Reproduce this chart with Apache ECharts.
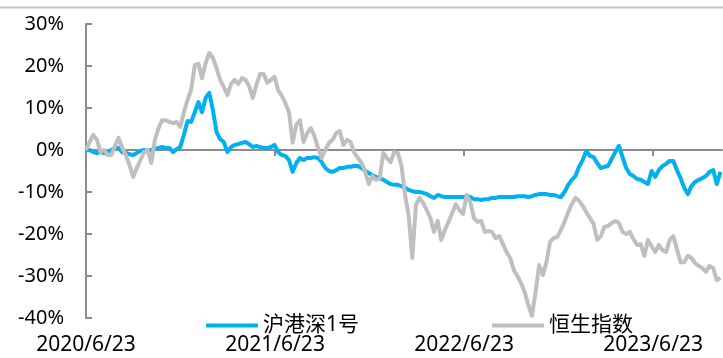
<!DOCTYPE html>
<html>
<head>
<meta charset="utf-8">
<script src="https://cdn.jsdelivr.net/npm/echarts@6/dist/echarts.min.js"></script>
<style>
  html, body { margin: 0; padding: 0; background: #fff; }
  #chart { width: 723px; height: 358px; }
</style>
</head>
<body>
<div id="chart"></div>
<script>
// Weekly cumulative returns (%) starting 2020/6/23
var startDate = [2020, 6, 23];
var stepDays = 7;
var lastDay = 1228;
var tickDays = [0, 365, 730, 1095];
var yTicks = { min: -40, max: 30, step: 10 };
var seriesNames = ['沪港深1号', '恒生指数'];

var fundReturn = [
  0, 0, -0.5, -0.7, -0.5, -0.7, -0.5, 0, 0.5, 0.5,
  -0.5, -0.7, -1.0, -1.2, -0.7, -0.2, 0, -0.2, 0, 0.2,
  0.5, 0.7, 0.5, 0.5, -0.5, 0.2, 0.7, 3.6, 6.9, 6.7,
  9.0, 11.4, 9.0, 12.4, 13.6, 9.5, 4.3, 2.6, 1.9, -0.5,
  0.7, 1.2, 1.4, 1.7, 1.9, 1.4, 0.7, 1.0, 0.7, 0.5,
  0.5, 0.7, 1.2, -0.5, -1.2, -1.4, -2.4, -5.2, -3.1, -1.9,
  -2.4, -1.9, -1.9, -1.7, -1.9, -2.9, -4.3, -5.0, -5.2, -4.8,
  -4.3, -4.3, -4.0, -4.0, -3.8, -3.8, -4.3, -5.0, -5.5, -6.0,
  -6.4, -6.7, -7.1, -7.6, -8.1, -8.3, -8.3, -8.6, -9.0, -9.5,
  -9.8, -10.0, -10.0, -10.2, -10.5, -11.0, -11.4, -10.7, -11.0, -11.2,
  -11.2, -11.2, -11.2, -11.2, -11.2, -11.0, -11.2, -11.7, -11.7, -11.9,
  -11.7, -11.7, -11.4, -11.4, -11.2, -11.2, -11.2, -11.2, -11.2, -11.0,
  -11.0, -11.0, -11.2, -11.0, -10.7, -10.5, -10.5, -10.5, -10.7, -10.7,
  -11.0, -11.2, -10.0, -8.3, -7.1, -6.2, -4.0, -2.4, -0.2, -1.4,
  -1.7, -3.1, -4.3, -4.0, -3.8, -2.1, -0.5, 1.0, -1.7, -4.3,
  -5.7, -6.2, -6.9, -7.1, -7.6, -8.1, -5.0, -6.4, -4.8, -3.8,
  -3.3, -2.6, -2.6, -4.8, -6.7, -9.0, -10.5, -8.6, -7.6, -7.1,
  -6.7, -6.2, -5.2, -4.8, -8.1, -5.2
];

var hsiReturn = [
  0, 1.9, 3.6, 2.4, -0.5, 0, -1.2, -1.2, 1.0, 2.9,
  0.5, -1.2, -3.6, -6.4, -4.3, -2.4, -0.5, 0, -3.1, 2.4,
  5.2, 7.1, 7.1, 6.7, 6.4, 6.7, 5.5, 9.0, 11.9, 14.3,
  20.2, 20.5, 17.1, 20.7, 23.1, 21.9, 19.5, 16.7, 15.0, 13.1,
  15.7, 16.7, 15.7, 17.1, 16.7, 15.2, 12.4, 15.5, 18.1, 18.1,
  16.0, 16.7, 17.4, 14.3, 12.9, 11.2, 9.0, 1.7, 6.0, 7.1,
  1.9, 4.0, 5.2, 3.3, 0.5, -1.9, 0, 1.7, 2.4, 4.0,
  4.5, 1.2, 2.4, 1.9, -0.7, -1.9, -3.1, -5.2, -8.1, -6.2,
  -7.1, -6.7, -0.7, -1.9, -2.9, -0.5, -0.7, -3.6, -10.7, -15.5,
  -25.7, -13.1, -11.4, -12.6, -14.3, -16.2, -19.5, -16.9, -21.4, -19.0,
  -17.1, -15.0, -12.9, -14.3, -15.2, -10.7, -12.4, -16.2, -17.1, -16.9,
  -19.5, -19.3, -19.5, -21.0, -20.5, -22.4, -24.3, -25.7, -28.6, -30.0,
  -31.7, -33.8, -36.9, -39.5, -33.8, -27.4, -29.8, -26.7, -21.9, -21.0,
  -20.7, -19.0, -17.1, -14.8, -12.9, -11.4, -12.1, -13.3, -14.8, -16.2,
  -17.6, -21.4, -20.5, -18.3, -18.1, -17.4, -16.9, -17.4, -19.5, -20.0,
  -19.5, -21.2, -22.6, -22.4, -25.2, -21.4, -22.9, -24.3, -22.6, -23.8,
  -24.3, -21.4, -20.5, -23.6, -26.7, -26.7, -25.2, -25.7, -26.9, -27.6,
  -28.1, -29.0, -27.6, -28.1, -31.0, -30.5
];

function toPairs(values) {
  return values.map(function (v, i) { return [i * stepDays, v]; });
}

function dayLabel(d) {
  var t = new Date(Date.UTC(startDate[0], startDate[1] - 1, startDate[2]) + d * 86400000);
  return t.getUTCFullYear() + '/' + (t.getUTCMonth() + 1) + '/' + t.getUTCDate();
}

var FONT = "'Noto Sans', 'Noto Sans CJK SC', sans-serif";
var AXIS_GRAY = '#8c8c8c';

var chart = echarts.init(document.getElementById('chart'));
chart.setOption({
  animation: false,
  backgroundColor: '#ffffff',
  textStyle: { fontFamily: FONT },
  graphic: [{
    type: 'line',
    shape: { x1: 0, y1: 7.5, x2: 723, y2: 7.5 },
    style: { stroke: '#c4c4c4', lineWidth: 2 },
    silent: true
  }],
  grid: { left: 86, right: 1, top: 24, bottom: 40, containLabel: false },
  legend: {
    data: seriesNames,
    left: 201,
    top: 310,
    itemWidth: 52,
    itemHeight: 4,
    itemGap: 133,
    icon: 'rect',
    textStyle: { fontSize: 21, color: '#000', fontFamily: FONT }
  },
  xAxis: [
    {
      type: 'value',
      min: 0,
      max: lastDay,
      position: 'bottom',
      axisLine: { show: false, onZero: false },
      axisTick: { show: false },
      splitLine: { show: false },
      axisLabel: {
        customValues: tickDays,
        margin: 17,
        fontSize: 21,
        color: '#000',
        fontFamily: FONT,
        formatter: function (v) { return dayLabel(v); }
      }
    },
    {
      type: 'value',
      min: 0,
      max: lastDay,
      position: 'bottom',
      axisLine: { show: true, onZero: true, lineStyle: { color: AXIS_GRAY, width: 2 } },
      axisTick: { show: true, customValues: tickDays, length: 6, lineStyle: { color: AXIS_GRAY, width: 2 } },
      axisLabel: { show: false },
      splitLine: { show: false }
    }
  ],
  yAxis: {
    type: 'value',
    min: yTicks.min,
    max: yTicks.max,
    interval: yTicks.step,
    axisLine: { show: true, lineStyle: { color: AXIS_GRAY, width: 2 } },
    axisTick: { show: true, inside: true, length: 6, lineStyle: { color: AXIS_GRAY, width: 2 } },
    splitLine: { show: false },
    axisLabel: {
      margin: 22,
      fontSize: 20,
      color: '#000',
      fontFamily: FONT,
      formatter: '{value}%'
    }
  },
  series: [
    {
      name: seriesNames[0],
      type: 'line',
      xAxisIndex: 1,
      data: toPairs(fundReturn),
      showSymbol: false,
      symbol: 'none',
      color: '#00b0f0',
      lineStyle: { width: 4, color: '#00b0f0', join: 'round' }
    },
    {
      name: seriesNames[1],
      type: 'line',
      xAxisIndex: 1,
      data: toPairs(hsiReturn),
      showSymbol: false,
      symbol: 'none',
      color: '#bfbfbf',
      lineStyle: { width: 4, color: '#bfbfbf', join: 'round' }
    }
  ]
});
</script>
</body>
</html>
